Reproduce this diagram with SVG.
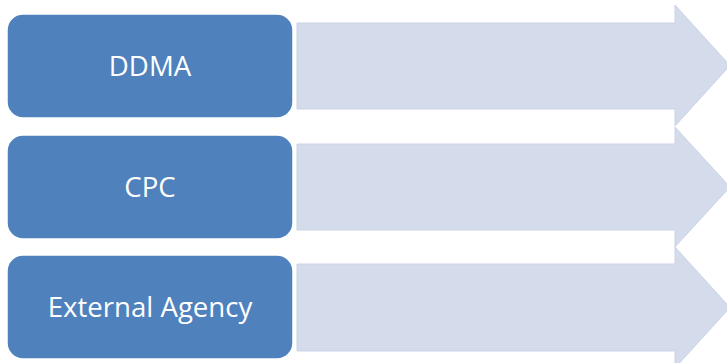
<svg xmlns="http://www.w3.org/2000/svg" width="727" height="363" viewBox="0 0 727 363">
<style>
.arrow{fill:#D4DBEB;stroke:#CBD3E6;stroke-width:1}
.box{fill:#4F81BD;stroke:#FFFFFF;stroke-width:1.5}
.lbl{fill:#FFFFFF;font-family:"Open Sans","Liberation Sans",sans-serif;font-size:27.6px;text-anchor:middle}
</style>
<rect width="727" height="363" fill="#FFFFFF"/>
<g id="arrows">
<polygon class="arrow" points="297,23 675,23 675,5 730,65.5 675,126 675,109 297,109"/>
<polygon class="arrow" points="297,144 675,144 675,127 730,187 675,247 675,230 297,230"/>
<polygon class="arrow" points="297,264 675,264 675,247 730,307.5 675,368 675,351 297,351"/>
</g>
<g id="node-ddma">
<rect class="box" x="7" y="14" width="286" height="104" rx="16"/>
<text class="lbl" x="150" y="76">DDMA</text>
</g>
<g id="node-cpc">
<rect class="box" x="7" y="135" width="286" height="104" rx="16"/>
<text class="lbl" x="150" y="197">CPC</text>
</g>
<g id="node-external">
<rect class="box" x="7" y="255" width="286" height="104" rx="16"/>
<text class="lbl" x="150" y="317">External Agency</text>
</g>
</svg>
